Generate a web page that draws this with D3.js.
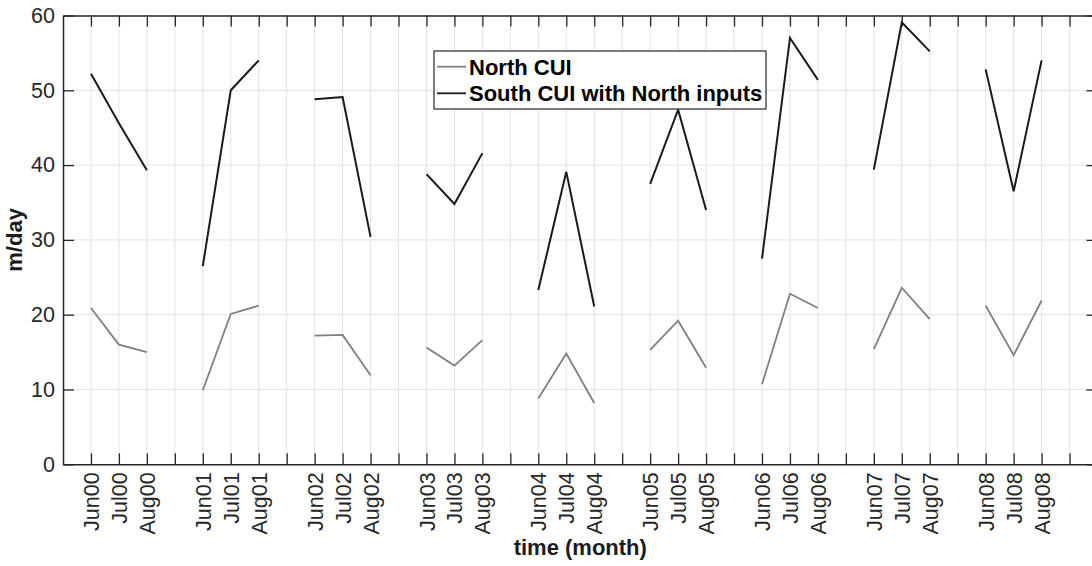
<!DOCTYPE html>
<html>
<head>
<meta charset="utf-8">
<script src="https://cdn.jsdelivr.net/npm/d3@7"></script>
<style>
  body { margin: 0; background: #fff; }
  svg { display: block; }
  text { font-family: "Liberation Sans", Arial, Helvetica, sans-serif; }
</style>
</head>
<body>
<svg id="chart" width="1092" height="566"></svg>
<script>
// Summer months (Jun, Jul, Aug) for 2000-2008; one spare slot between years
const years = ["00", "01", "02", "03", "04", "05", "06", "07", "08"];
const months = ["Jun", "Jul", "Aug"];
const tickLabels = [
  "Jun00", "Jul00", "Aug00", "Jun01", "Jul01", "Aug01", "Jun02", "Jul02", "Aug02",
  "Jun03", "Jul03", "Aug03", "Jun04", "Jul04", "Aug04", "Jun05", "Jul05", "Aug05",
  "Jun06", "Jul06", "Aug06", "Jun07", "Jul07", "Aug07", "Jun08", "Jul08", "Aug08"
];

// Coastal upwelling index, m/day
const northCUI = [
  20.9, 16.0, 15.0,
  9.9, 20.1, 21.2,
  17.2, 17.3, 11.9,
  15.6, 13.2, 16.6,
  8.8, 14.8, 8.2,
  15.3, 19.2, 12.9,
  10.7, 22.8, 20.9,
  15.4, 23.6, 19.4,
  21.2, 14.6, 21.9
];
const southCUI = [
  52.2, 45.6, 39.3,
  26.5, 50.0, 54.0,
  48.8, 49.1, 30.4,
  38.8, 34.8, 41.6,
  23.3, 39.1, 21.1,
  37.5, 47.4, 34.0,
  27.5, 57.0, 51.4,
  39.4, 59.1, 55.2,
  52.8, 36.5, 54.0
];

const yTicks = [0, 10, 20, 30, 40, 50, 60];
const seriesNames = ["North CUI", "South CUI with North inputs"];
const seriesColors = ["#808080", "#1a1a1a"];

const svg = d3.select("#chart");
const plotLeft = 63, plotTop = 15.5, plotBottom = 464.3, step = 27.96, nSlots = 37;
const x = d3.scaleLinear().domain([0, nSlots]).range([plotLeft, plotLeft + nSlots * step]);
const y = d3.scaleLinear().domain([0, 60]).range([plotBottom, plotTop]);

const axisColor = "#262626";
const gridColor = "#e3e3e3";
const tickFont = 21.5;
const labelFont = 22;

// slot index on the x axis for each month
const posOf = i => Math.floor(i / 3) * 4 + (i % 3) + 1;
const xTicks = d3.range(1, nSlots);
const labelAt = new Map(tickLabels.map((l, i) => [posOf(i), l]));

// grid
const grid = svg.append("g");
grid.selectAll("line.vx").data(xTicks).join("line")
  .attr("x1", d => x(d)).attr("x2", d => x(d))
  .attr("y1", y(0)).attr("y2", y(60))
  .attr("stroke", gridColor).attr("stroke-width", 1);
grid.selectAll("line.hy").data(yTicks.slice(1, -1)).join("line")
  .attr("x1", x(0)).attr("x2", x(nSlots))
  .attr("y1", d => y(d)).attr("y2", d => y(d))
  .attr("stroke", gridColor).attr("stroke-width", 1);

// data, one polyline per summer
const line = d3.line().x(d => x(d.p)).y(d => y(d.v));
function drawSeries(values, color, width) {
  const groups = years.map((yr, g) =>
    months.map((m, j) => ({ p: posOf(g * 3 + j), v: values[g * 3 + j] })));
  svg.append("g").selectAll("path").data(groups).join("path")
    .attr("d", line)
    .attr("fill", "none")
    .attr("stroke", color)
    .attr("stroke-width", width)
    .attr("stroke-linejoin", "miter");
}
drawSeries(northCUI, seriesColors[0], 1.8);
drawSeries(southCUI, seriesColors[1], 2);

// axes (inward ticks, boxed)
function styleAxis(g) {
  g.selectAll("path.domain").attr("stroke", axisColor).attr("stroke-width", 1.5);
  g.selectAll(".tick line").attr("stroke", axisColor).attr("stroke-width", 1.3);
  g.selectAll("text").attr("fill", axisColor).attr("font-size", tickFont)
    .attr("font-family", "Liberation Sans, Arial, sans-serif");
}

const xAxis = svg.append("g").attr("transform", `translate(0,${plotBottom})`)
  .call(d3.axisBottom(x).tickValues(xTicks).tickSize(-11).tickSizeOuter(0)
    .tickFormat(d => labelAt.get(d) || ""))
  .call(styleAxis);
xAxis.selectAll("text")
  .attr("transform", "rotate(-90)")
  .attr("x", -8).attr("y", 0).attr("dy", "0.35em")
  .attr("text-anchor", "end");

svg.append("g").attr("transform", `translate(0,${plotTop})`)
  .call(d3.axisTop(x).tickValues(xTicks).tickSize(-11).tickSizeOuter(0).tickFormat(""))
  .call(styleAxis);

svg.append("g").attr("transform", `translate(${plotLeft},0)`)
  .call(d3.axisLeft(y).tickValues(yTicks).tickSize(-11).tickSizeOuter(0).tickPadding(8))
  .call(styleAxis);

svg.append("g").attr("transform", `translate(${x(nSlots)},0)`)
  .call(d3.axisRight(y).tickValues(yTicks).tickSize(-11).tickSizeOuter(0).tickFormat(""))
  .call(styleAxis);

// axis titles
svg.append("text")
  .attr("x", (x(0) + x(nSlots)) / 2).attr("y", 555)
  .attr("text-anchor", "middle").attr("font-size", labelFont).attr("font-weight", "bold")
  .attr("fill", "#1a1a1a").text("time (month)");
svg.append("text")
  .attr("transform", `translate(22,${(plotTop + plotBottom) / 2}) rotate(-90)`)
  .attr("text-anchor", "middle").attr("font-size", labelFont).attr("font-weight", "bold")
  .attr("fill", "#1a1a1a").text("m/day");

// legend
const legend = svg.append("g");
legend.append("rect")
  .attr("x", 434).attr("y", 51).attr("width", 332).attr("height", 58)
  .attr("fill", "#fff").attr("stroke", axisColor).attr("stroke-width", 1.2);
const rowY = [66.7, 93.3];
seriesNames.forEach((name, i) => {
  legend.append("line")
    .attr("x1", 437).attr("x2", 466).attr("y1", rowY[i]).attr("y2", rowY[i])
    .attr("stroke", seriesColors[i]).attr("stroke-width", 1.8);
  legend.append("text")
    .attr("x", 469).attr("y", rowY[i]).attr("dy", "0.36em")
    .attr("font-size", labelFont).attr("font-weight", "bold").attr("fill", "#000")
    .text(name);
});
</script>
</body>
</html>
